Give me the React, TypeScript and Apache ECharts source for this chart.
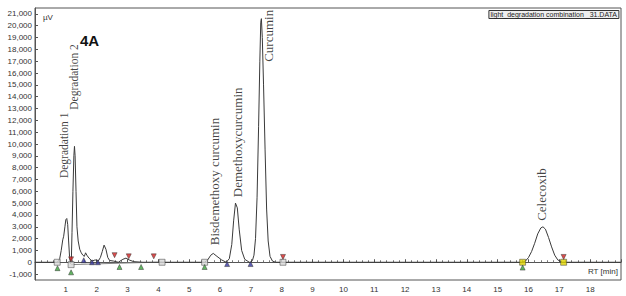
import React, { useEffect, useRef } from "react";
import * as echarts from "echarts";

// Chromatogram trace: retention time (min) and signal (µV)
const rtMin = [
  0.0, 0.7, 0.75, 0.8, 0.85, 0.9, 0.93, 0.97, 1.0, 1.03, 1.06, 1.09, 1.12, 1.15, 1.18, 1.2,
  1.23, 1.26, 1.28, 1.3, 1.33, 1.36, 1.4, 1.45, 1.5, 1.55, 1.6, 1.64, 1.68, 1.75, 1.85, 1.95,
  2.05, 2.12, 2.18, 2.24, 2.3, 2.36, 2.42, 2.55, 2.7, 2.85, 2.95, 3.05, 3.2, 3.5, 5.5, 5.6,
  5.7, 5.78, 5.9, 6.05, 6.2, 6.3, 6.38, 6.44, 6.5, 6.56, 6.62, 6.7, 6.8, 6.95, 7.0, 7.05,
  7.1, 7.15, 7.2, 7.25, 7.29, 7.32, 7.34, 7.37, 7.41, 7.46, 7.51, 7.56, 7.62, 7.7, 7.8, 15.8,
  15.9, 16.0, 16.1, 16.2, 16.3, 16.4, 16.47, 16.55, 16.65, 16.75, 16.85, 16.95, 17.1, 19.0,
];
const signalUV = [
  0, 0, 50, 300, 1000, 1900, 2200, 3000, 3600, 3700, 3200, 1800, 500, -100, 300, 2500,
  6000, 9000, 9800, 9000, 6000, 3000, 1800, 1100, 800, 600, 500, 800, 600, 350, 100, 200,
  100, 400, 900, 1450, 1100, 400, 150, 100, 0, 250, 350, 200, 50, 0, 0, 200,
  600, 750, 500, 200, 0, 300, 1500, 3500, 5000, 4600, 2800, 1000, 250, 0, 0, 150,
  600, 2000, 5500, 11500, 17000, 20300, 20600, 19000, 15000, 9500, 4500, 1800, 500, 100, 0, 0,
  100, 400, 900, 1600, 2400, 2900, 3000, 2800, 2100, 1300, 600, 200, 0, 0,
];

// Integration baseline drawn under the early peaks
const baseRt = [1.17, 2.74, 3.44, 4.12];
const baseUV = [-200, -80, -30, 0];

// Peak start/end markers
const squareRt = [0.72, 1.17, 4.12, 5.5, 8.04];
const squareUV = [0, -200, 0, 0, 0];
const yellowSquareRt = [15.81, 17.14];
const yellowSquareUV = [0, 0];
const greenTriRt = [0.73, 1.17, 2.74, 3.44, 5.5, 15.81];
const greenTriUV = [-500, -850, -400, -400, -400, -450];
const redTriRt = [1.17, 2.58, 3.04, 3.85, 8.04, 17.14];
const redTriUV = [250, 600, 500, 500, 450, 450];
const blueTriRt = [1.58, 1.85, 2.04, 6.23, 6.99];
const blueTriUV = [170, 0, 0, -150, -150];

// Peak names (placed at bottom-centre of the vertical text)
const peakNames = ["Degradation 1", "Degradation 2", "Bisdemethoxy curcumin", "Demethoxycurcumin", "Curcumin", "Celecoxib"];
const peakLabelRt = [0.94, 1.28, 5.82, 6.56, 7.57, 16.42];
const peakLabelUV = [7120, 12900, 1440, 5500, 16950, 3500];
const peakFontSize = [11.5, 11.5, 13, 13, 13, 13];

const yTicks = [-1000, 0, 1000, 2000, 3000, 4000, 5000, 6000, 7000, 8000, 9000, 10000, 11000,
  12000, 13000, 14000, 15000, 16000, 17000, 18000, 19000, 20000, 21000];
const xTicks = [1, 2, 3, 4, 5, 6, 7, 8, 9, 10, 11, 12, 13, 14, 15, 16, 17, 18];

const zip = (a: number[], b: number[]) => a.map((v, i) => [v, b[i]]);

export default function App() {
  const ref = useRef<HTMLDivElement>(null);
  useEffect(() => {
    if (!ref.current) return;
    document.body.style.margin = "0";
    const chart = echarts.init(ref.current, null, { renderer: "svg" });
    const tickFont = { fontFamily: "Liberation Sans", fontSize: 8, color: "#333" };
    const marker = (name: string, rt: number[], uv: number[], symbol: string, color: string, size: number, rotate = 0) => ({
      name,
      type: "scatter",
      data: zip(rt, uv),
      symbol,
      symbolSize: size,
      symbolRotate: rotate,
      itemStyle: { color, borderColor: "#333", borderWidth: 0.6 },
      z: 5,
      silent: true,
    });
    chart.setOption({
      animation: false,
      backgroundColor: "#fff",
      title: {
        text: "light_degradation combination _31.DATA",
        right: 7,
        top: 10,
        padding: [1, 2],
        borderColor: "#333",
        borderWidth: 1,
        backgroundColor: "#eee",
        textStyle: { fontFamily: "Liberation Sans", fontSize: 7, fontWeight: "normal", color: "#222" },
      },
      grid: { left: 35, right: 5, top: 8, bottom: 16, show: true, borderColor: "#555", borderWidth: 1 },
      xAxis: {
        type: "value",
        min: 0,
        max: 19,
        interval: 1,
        axisLine: { lineStyle: { color: "#555" } },
        axisTick: { inside: true, length: 3, lineStyle: { color: "#555" } },
        minorTick: { show: true, splitNumber: 5, length: 2, lineStyle: { color: "#777" } },
        splitLine: { show: false },
        axisLabel: { ...tickFont, margin: 5, customValues: xTicks },
      },
      yAxis: {
        type: "value",
        min: -1500,
        max: 21500,
        axisLine: { show: true, lineStyle: { color: "#555" } },
        axisTick: { show: true, inside: true, length: 3, customValues: yTicks, lineStyle: { color: "#555" } },
        splitLine: { show: false },
        axisLabel: {
          ...tickFont,
          margin: 3,
          customValues: yTicks,
          formatter: (v: number) => v.toLocaleString("en-US"),
        },
      },
      graphic: [
        { type: "text", left: 43, top: 13, style: { text: "µV", font: "8px 'Liberation Sans'", fill: "#333" } },
        { type: "text", right: 8, top: 267, style: { text: "RT [min]", font: "8px 'Liberation Sans'", fill: "#333" } },
        { type: "text", left: 80, top: 33, style: { text: "4A", font: "bold 15px 'Liberation Sans'", fill: "#111" } },
      ],
      series: [
        {
          name: "integration baseline",
          type: "line",
          data: zip(baseRt, baseUV),
          showSymbol: false,
          lineStyle: { color: "#888", width: 1 },
          silent: true,
          z: 2,
        },
        {
          name: "signal",
          type: "line",
          data: zip(rtMin, signalUV),
          showSymbol: false,
          lineStyle: { color: "#3a3a3a", width: 1 },
          silent: true,
          z: 3,
        },
        marker("squares", squareRt, squareUV, "rect", "#d8d8d8", 6),
        marker("yellow squares", yellowSquareRt, yellowSquareUV, "rect", "#e0d400", 6),
        marker("green", greenTriRt, greenTriUV, "triangle", "#3aa33a", 5),
        marker("red", redTriRt, redTriUV, "triangle", "#d42020", 5, 180),
        marker("blue", blueTriRt, blueTriUV, "triangle", "#3535a0", 5),
        {
          name: "peak labels",
          type: "scatter",
          symbolSize: 0,
          silent: true,
          data: peakNames.map((n, i) => ({
            value: [peakLabelRt[i], peakLabelUV[i]],
            name: n,
            label: {
              show: true,
              formatter: n,
              rotate: 90,
              position: [0, 0],
              align: "left",
              verticalAlign: "middle",
              fontFamily: "Liberation Serif",
              fontSize: peakFontSize[i],
              color: "#111",
            },
          })),
          z: 6,
        },
      ],
    });
    return () => chart.dispose();
  }, []);
  return <div ref={ref} style={{ width: 626, height: 296 }} />;
}
